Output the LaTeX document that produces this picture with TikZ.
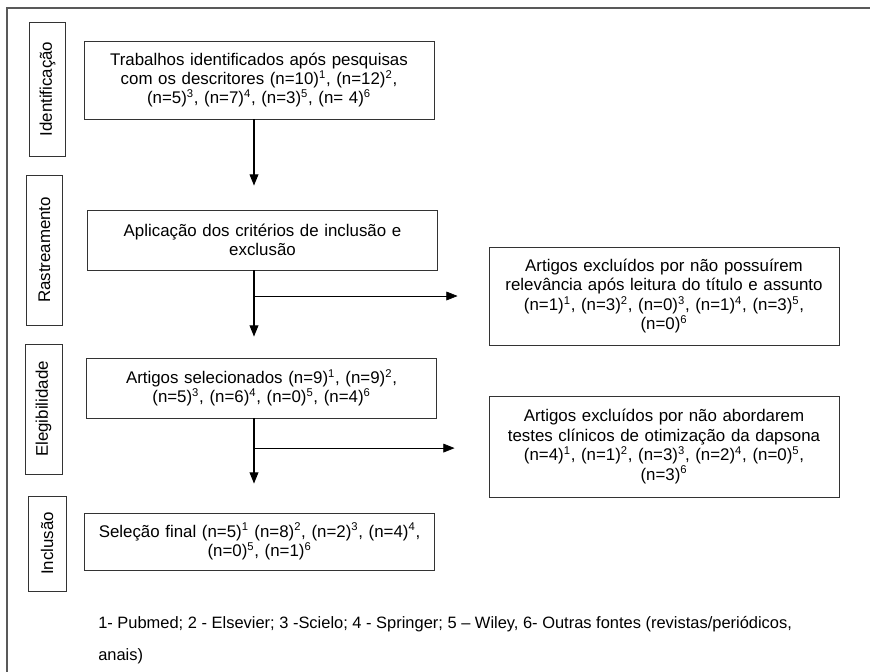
\documentclass[tikz,border=0pt]{standalone}
\usepackage{fontspec}
\setmainfont{Liberation Sans}
\usepackage{tikz}
\usetikzlibrary{arrows.meta, positioning, calc}
\newcommand{\src}[1]{\textsuperscript{#1}}
\tikzset{
  box/.style={rectangle, draw=black!80, line width=0.6pt, align=center,
              inner xsep=0pt, text width=8.75cm,
              font=\fontsize{12}{13.8}\selectfont},
  phase/.style={rectangle, draw=black!80, line width=0.6pt, rotate=90,
                minimum height=0.9cm, inner sep=0pt,
                font=\fontsize{12}{13.5}\selectfont},
  arrow/.style={-{Triangle[length=0.28cm, width=0.22cm]}, line width=0.8pt},
  sidearrow/.style={-{Triangle[length=0.28cm, width=0.22cm]}, line width=0.5pt},
  frame/.style={draw=black!65, line width=1.2pt},
  note/.style={align=left, inner xsep=0pt, font=\fontsize{11.7}{22.8}\selectfont}
}

\begin{document}
\begin{tikzpicture}[x=0.025cm, y=-0.025cm]
  \useasboundingbox (0,0) rectangle (870,672);
  \draw[frame] (7,672) -- (7,8) -- (870,8);

  % phases
  \node[phase, minimum width=3.35cm] (pid) at (47.5,89) {Identificação};
  \node[phase, minimum width=3.75cm] (pra) at (44.5,250) {Rastreamento};
  \node[phase, minimum width=3.25cm, minimum height=0.925cm] (pel) at (43.5,409) {Elegibilidade};
  \node[phase, minimum width=2.375cm, minimum height=0.95cm] (pin) at (47,543.5) {Inclusão};

  % main column
  \node[box, minimum height=1.95cm] (ident) at (259,80)
    {Trabalhos identificados após pesquisas\\
     com os descritores (n=10)\src{1}, (n=12)\src{2},\\
     (n=5)\src{3}, (n=7)\src{4}, (n=3)\src{5}, (n= 4)\src{6}};
  \node[box, minimum height=1.5cm] (crit) at (262.5,240)
    {Aplicação dos critérios de inclusão e\\ exclusão};
  \node[box, minimum height=1.5cm] (sel) at (261.5,388)
    {Artigos selecionados (n=9)\src{1}, (n=9)\src{2},\\
     (n=5)\src{3}, (n=6)\src{4}, (n=0)\src{5}, (n=4)\src{6}};
  \node[box, minimum height=1.425cm] (final) at (259.5,541.5)
    {Seleção final (n=5)\src{1} (n=8)\src{2}, (n=2)\src{3}, (n=4)\src{4},\\
     (n=0)\src{5}, (n=1)\src{6}};

  % excluded
  \node[box, minimum height=2.45cm] (exc1) at (664,296)
    {Artigos excluídos por não possuírem\\
     relevância após leitura do título e assunto\\
     (n=1)\src{1}, (n=3)\src{2}, (n=0)\src{3}, (n=1)\src{4}, (n=3)\src{5},\\
     (n=0)\src{6}};
  \node[box, minimum height=2.525cm] (exc2) at (664,446.5)
    {Artigos excluídos por não abordarem\\
     testes clínicos de otimização da dapsona\\
     (n=4)\src{1}, (n=1)\src{2}, (n=3)\src{3}, (n=2)\src{4}, (n=0)\src{5},\\
     (n=3)\src{6}};

  \coordinate (stem) at (254,0);
  \draw[arrow, shorten >=0.6cm] (ident.south -| stem) -- (crit.north -| stem);
  \draw[arrow, shorten >=0.525cm] (crit.south -| stem) -- (sel.north -| stem);
  \draw[arrow, shorten >=0.725cm] (sel.south -| stem) -- (final.north -| stem);
  \draw[sidearrow, shorten >=0.775cm] (exc1.west -| stem) -- (exc1.west);
  \draw[sidearrow, shorten >=0.85cm] ([yshift=-0.04cm]exc2.west -| stem) -- ([yshift=-0.04cm]exc2.west);

  \node[note, anchor=west] (legend) at (98,640)
    {1- Pubmed; 2 - Elsevier; 3 -Scielo; 4 - Springer; 5 – Wiley, 6- Outras fontes (revistas/periódicos,\\
     anais)};
\end{tikzpicture}
\end{document}
